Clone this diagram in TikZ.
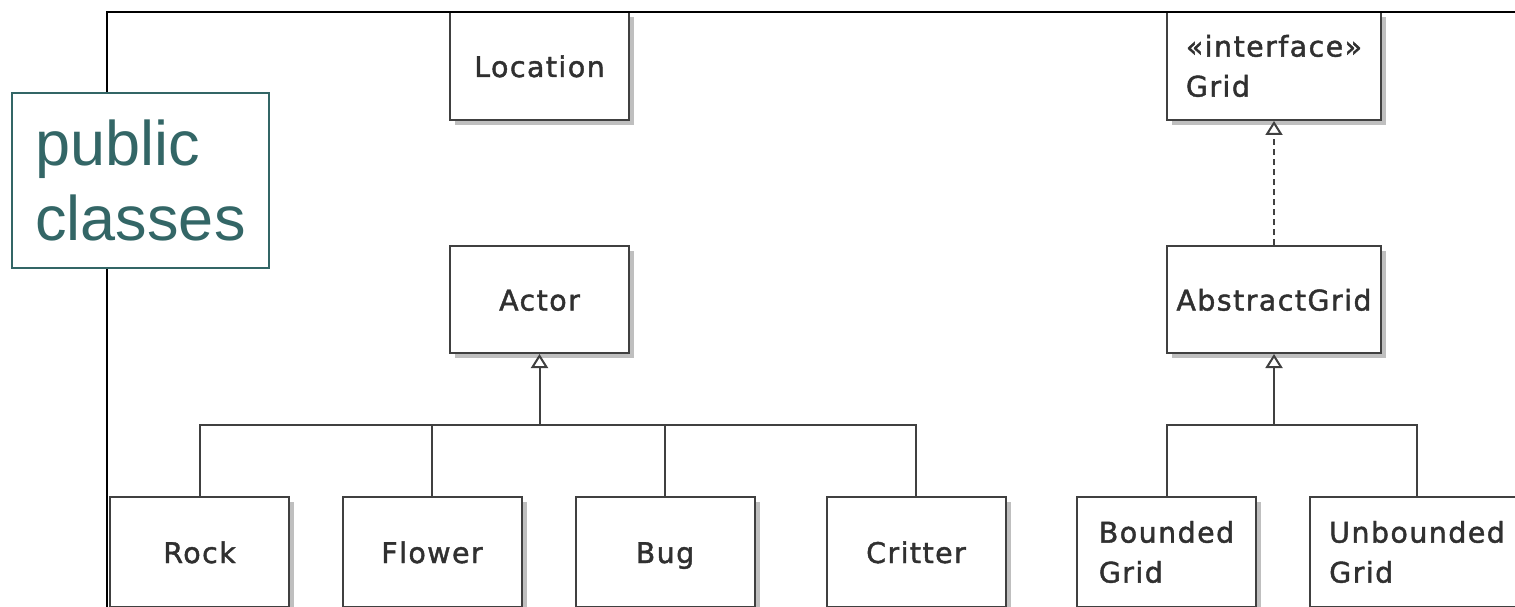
\documentclass[tikz,border=0pt]{standalone}
\usepackage{fontspec}
\setmainfont{DejaVu Sans}
\newfontfamily\umlfont[LetterSpace=5, FakeBold=1.5]{DejaVu Sans}
\newfontfamily\notefont{Liberation Sans}
\usetikzlibrary{arrows.meta}
\usetikzlibrary{shadows}

\definecolor{umlline}{HTML}{404040}
\definecolor{umltext}{HTML}{303030}
\definecolor{noteteal}{HTML}{336666}

\tikzset{
  cls/.style={draw=umlline, line width=2pt, fill=white, inner sep=0pt,
    minimum height=108pt, align=left, text=umltext,
    font=\umlfont\fontsize{28.5}{40}\selectfont,
    drop shadow={shadow xshift=5pt, shadow yshift=-5pt, opacity=1, fill=black!25}},
  oneline/.style={text height=25pt, text depth=3pt},
  inh/.style={draw=umlline, line width=2pt,
    -{Triangle[open, length=14pt, width=17pt, line width=2pt]}},
  tree/.style={draw=umlline, line width=2pt},
}

\begin{document}
\begin{tikzpicture}[x=1pt, y=-1pt]
\clip (0,0) rectangle (1515,607);
\fill[white] (0,0) rectangle (1515,607);

% top row
\node[cls, oneline, minimum width=179pt] (loc) at (539.5,66) {Location};
\node[cls, minimum width=214pt] (grid) at (1274,66) {«interface»\\Grid};

% middle row
\node[cls, oneline, minimum width=179pt, minimum height=107pt] (actor) at (539.5,299.5) {Actor};
\node[cls, oneline, minimum width=214pt, minimum height=107pt] (agrid) at (1274,299.5) {AbstractGrid};

% bottom row
\node[cls, oneline, minimum width=179pt, minimum height=110pt] (rock) at (199.5,552) {Rock};
\node[cls, oneline, minimum width=179pt, minimum height=110pt] (flower) at (432,552) {Flower};
\node[cls, oneline, minimum width=179pt, minimum height=110pt] (bug) at (665,552) {Bug};
\node[cls, oneline, minimum width=179pt, minimum height=110pt] (critter) at (916,552) {Critter};
\node[cls, minimum width=179pt, minimum height=110pt] (bgrid) at (1166.5,552) {Bounded\\Grid};
\node[cls, minimum width=214pt, minimum height=110pt] (ugrid) at (1417,552) {Unbounded\\Grid};

\coordinate (abar) at (539.5,425);
\coordinate (gbar) at (1274,425);

\draw[tree] (rock.north) |- (abar);
\draw[tree] (critter.north) |- (abar);
\draw[tree] (flower.north) -- (flower.north |- abar);
\draw[tree] (bug.north) -- (bug.north |- abar);
\draw[inh] (abar) -- (actor.south);

\draw[tree] (bgrid.north) |- (gbar);
\draw[tree] (ugrid.north) |- (gbar);
\draw[inh] (gbar) -- (agrid.south);

\draw[inh, dash pattern=on 6pt off 4pt] (agrid.north) -- (grid.south);

% frame
\draw[line width=2.5pt] (107,607) -- (107,12) -- (1515,12);

\node[draw=noteteal, line width=2pt, fill=white, text=noteteal, align=left,
  minimum width=257pt, minimum height=175pt, inner sep=0pt,
  font=\notefont\fontsize{63}{75}\selectfont] (pub) at (140.5,180.5) {public\\classes};
\end{tikzpicture}
\end{document}
